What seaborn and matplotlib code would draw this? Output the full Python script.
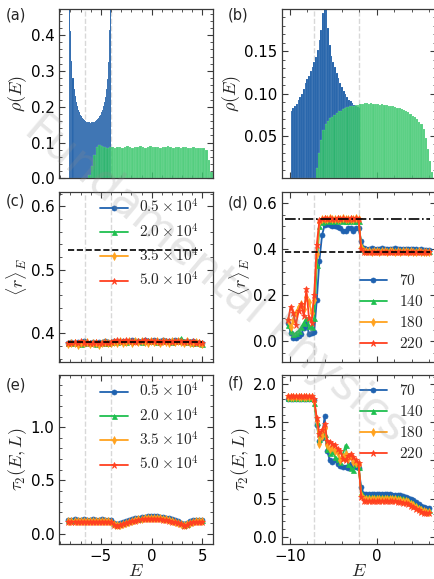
import numpy as np
import pandas as pd
import matplotlib
matplotlib.use("Agg")
import matplotlib.pyplot as plt
from matplotlib.ticker import AutoMinorLocator, MultipleLocator, FixedLocator
import seaborn as sns

sns.set_theme(style="ticks")
plt.rcParams.update({
    "font.family": ["DejaVu Sans"],
    "mathtext.fontset": "cm",
    "xtick.direction": "in", "ytick.direction": "in",
    "xtick.top": True, "ytick.right": True,
    "xtick.major.size": 4, "ytick.major.size": 4,
    "xtick.minor.size": 2, "ytick.minor.size": 2,
    "xtick.major.width": 0.8, "ytick.major.width": 0.8,
    "xtick.minor.width": 0.6, "ytick.minor.width": 0.6,
    "xtick.labelsize": 10.8, "ytick.labelsize": 10.8,
    "axes.labelsize": 13,
    "axes.edgecolor": "#3a3a3a", "axes.linewidth": 0.9,
    "xtick.color": "#3a3a3a", "ytick.color": "#3a3a3a",
    "xtick.labelcolor": "black", "ytick.labelcolor": "black",
})

# ---------------- densities of states ----------------
# (a) bin centres and heights
dos_a_blue_E = np.linspace(-8.05, -4.05, 41)
dos_a_blue = [0.700, 0.412, 0.327, 0.279, 0.250, 0.229, 0.213, 0.201, 0.192, 0.184,
              0.178, 0.173, 0.169, 0.165, 0.162, 0.160, 0.158, 0.157, 0.156, 0.156,
              0.155, 0.156, 0.156, 0.157, 0.158, 0.160, 0.163, 0.165, 0.168, 0.173,
              0.178, 0.184, 0.191, 0.201, 0.212, 0.228, 0.249, 0.278, 0.325, 0.415,
              0.710]
dos_a_green_E = np.linspace(-6.125, 5.875, 49)
dos_a_green = [0.010, 0.034, 0.066, 0.088, 0.094, 0.090, 0.087, 0.086, 0.088, 0.087,
               0.085, 0.087, 0.088, 0.086, 0.087, 0.089, 0.087, 0.086, 0.088, 0.087,
               0.089, 0.088, 0.086, 0.087, 0.089, 0.088, 0.087, 0.088, 0.086, 0.087,
               0.088, 0.089, 0.087, 0.086, 0.088, 0.087, 0.086, 0.088, 0.087, 0.085,
               0.086, 0.087, 0.085, 0.086, 0.085, 0.086, 0.078, 0.050, 0.018]

# (b) bin centres and heights
dos_b_blue_E = np.linspace(-9.8, -2.0, 40)
dos_b_blue = [0.080, 0.083, 0.085, 0.088, 0.092, 0.096, 0.100, 0.105, 0.112, 0.117,
              0.121, 0.127, 0.131, 0.137, 0.143, 0.152, 0.163, 0.175, 0.195, 0.215,
              0.210, 0.178, 0.158, 0.145, 0.137, 0.131, 0.124, 0.118, 0.112, 0.108,
              0.103, 0.099, 0.096, 0.093, 0.091, 0.089, 0.087, 0.085, 0.084, 0.083]
dos_b_green_E = np.linspace(-6.875, 6.375, 54)
dos_b_green = [0.012, 0.030, 0.045, 0.057, 0.064, 0.068, 0.071, 0.073, 0.075, 0.077,
               0.079, 0.080, 0.082, 0.083, 0.084, 0.085, 0.086, 0.086, 0.087, 0.087,
               0.088, 0.088, 0.089, 0.089, 0.088, 0.089, 0.088, 0.088, 0.088, 0.087,
               0.088, 0.087, 0.087, 0.086, 0.086, 0.085, 0.084, 0.083, 0.083, 0.082,
               0.081, 0.080, 0.078, 0.076, 0.074, 0.072, 0.070, 0.067, 0.064, 0.058,
               0.048, 0.035, 0.020, 0.008]

# ---------------- left column: sizes 0.5e4 ... 5.0e4 ----------------
E_left = np.linspace(-8.2, 5.0, 45)
labels_left = [r"$0.5\times10^4$", r"$2.0\times10^4$", r"$3.5\times10^4$", r"$5.0\times10^4$"]

r_left_05 = [0.385, 0.386, 0.384, 0.386, 0.385, 0.387, 0.385, 0.384, 0.386, 0.385,
             0.386, 0.385, 0.387, 0.386, 0.385, 0.387, 0.388, 0.386, 0.387, 0.388,
             0.387, 0.389, 0.388, 0.387, 0.388, 0.389, 0.387, 0.388, 0.389, 0.388,
             0.387, 0.389, 0.388, 0.387, 0.388, 0.389, 0.387, 0.388, 0.386, 0.387,
             0.386, 0.387, 0.386, 0.385, 0.384]
r_left_20 = [0.384, 0.385, 0.386, 0.384, 0.383, 0.385, 0.386, 0.384, 0.385, 0.383,
             0.384, 0.386, 0.385, 0.384, 0.386, 0.387, 0.386, 0.388, 0.387, 0.386,
             0.388, 0.387, 0.389, 0.387, 0.386, 0.388, 0.389, 0.387, 0.388, 0.386,
             0.388, 0.387, 0.389, 0.388, 0.386, 0.387, 0.388, 0.392, 0.387, 0.386,
             0.387, 0.385, 0.386, 0.384, 0.383]
r_left_35 = [0.383, 0.385, 0.384, 0.382, 0.385, 0.384, 0.386, 0.383, 0.384, 0.385,
             0.382, 0.384, 0.386, 0.384, 0.385, 0.386, 0.384, 0.387, 0.385, 0.386,
             0.388, 0.385, 0.387, 0.386, 0.388, 0.386, 0.385, 0.387, 0.386, 0.388,
             0.384, 0.387, 0.386, 0.385, 0.387, 0.386, 0.388, 0.386, 0.385, 0.387,
             0.385, 0.384, 0.386, 0.384, 0.383]
r_left_50 = [0.385, 0.384, 0.386, 0.385, 0.387, 0.385, 0.386, 0.384, 0.385, 0.386,
             0.384, 0.385, 0.386, 0.385, 0.386, 0.388, 0.389, 0.387, 0.388, 0.389,
             0.387, 0.388, 0.386, 0.388, 0.387, 0.389, 0.388, 0.387, 0.388, 0.387,
             0.386, 0.388, 0.387, 0.388, 0.386, 0.387, 0.388, 0.387, 0.386, 0.388,
             0.386, 0.387, 0.385, 0.386, 0.385]

t_left_05 = [0.132, 0.132, 0.133, 0.132, 0.132, 0.133, 0.132, 0.132, 0.133, 0.132,
             0.132, 0.133, 0.132, 0.132, 0.128, 0.104, 0.089, 0.097, 0.106, 0.116,
             0.126, 0.135, 0.143, 0.150, 0.156, 0.161, 0.164, 0.166, 0.166, 0.164,
             0.161, 0.156, 0.150, 0.143, 0.135, 0.126, 0.116, 0.104, 0.089, 0.100,
             0.118, 0.128, 0.131, 0.132, 0.132]
t_left_20 = [0.125, 0.125, 0.126, 0.125, 0.125, 0.126, 0.125, 0.125, 0.126, 0.125,
             0.125, 0.126, 0.125, 0.125, 0.121, 0.097, 0.083, 0.090, 0.099, 0.109,
             0.118, 0.127, 0.135, 0.142, 0.147, 0.152, 0.155, 0.157, 0.157, 0.155,
             0.152, 0.147, 0.141, 0.134, 0.126, 0.117, 0.108, 0.097, 0.083, 0.093,
             0.111, 0.121, 0.124, 0.125, 0.125]
t_left_35 = [0.118, 0.118, 0.119, 0.118, 0.118, 0.119, 0.118, 0.118, 0.119, 0.118,
             0.118, 0.119, 0.118, 0.118, 0.114, 0.091, 0.077, 0.085, 0.094, 0.103,
             0.112, 0.121, 0.128, 0.134, 0.140, 0.144, 0.147, 0.149, 0.149, 0.147,
             0.144, 0.139, 0.134, 0.127, 0.119, 0.111, 0.102, 0.091, 0.077, 0.088,
             0.104, 0.114, 0.117, 0.118, 0.118]
t_left_50 = [0.112, 0.112, 0.113, 0.112, 0.112, 0.113, 0.112, 0.112, 0.113, 0.112,
             0.112, 0.113, 0.112, 0.112, 0.108, 0.085, 0.072, 0.080, 0.089, 0.098,
             0.107, 0.115, 0.122, 0.128, 0.133, 0.137, 0.140, 0.141, 0.141, 0.139,
             0.136, 0.132, 0.127, 0.121, 0.114, 0.106, 0.097, 0.086, 0.072, 0.082,
             0.098, 0.108, 0.111, 0.112, 0.112]

# ---------------- right column: sizes 70 ... 220 ----------------
E_right = np.linspace(-10.2, 6.0, 55)
labels_right = [r"$70$", r"$140$", r"$180$", r"$220$"]

r_right_70 = [0.080, 0.035, 0.015, 0.015, 0.020, 0.030, 0.055, 0.080, 0.030, 0.035,
              0.040, 0.180, 0.350, 0.460, 0.505, 0.510, 0.505, 0.500, 0.500, 0.495,
              0.490, 0.480, 0.480, 0.490, 0.490, 0.480, 0.490, 0.490, 0.435, 0.405,
              0.402, 0.401, 0.403, 0.400, 0.402, 0.401, 0.403, 0.402, 0.400, 0.401,
              0.402, 0.403, 0.401, 0.400, 0.402, 0.401, 0.400, 0.399, 0.401, 0.400,
              0.398, 0.399, 0.397, 0.398, 0.397]
r_right_140 = [0.070, 0.045, 0.030, 0.035, 0.045, 0.060, 0.080, 0.100, 0.065, 0.060,
               0.100, 0.330, 0.500, 0.520, 0.523, 0.525, 0.522, 0.524, 0.526, 0.523,
               0.525, 0.522, 0.524, 0.523, 0.525, 0.522, 0.524, 0.523, 0.420, 0.395,
               0.395, 0.396, 0.394, 0.395, 0.397, 0.395, 0.394, 0.396, 0.395, 0.394,
               0.396, 0.395, 0.394, 0.395, 0.396, 0.394, 0.395, 0.393, 0.394, 0.395,
               0.393, 0.394, 0.392, 0.393, 0.392]
r_right_180 = [0.090, 0.060, 0.090, 0.120, 0.150, 0.160, 0.140, 0.190, 0.170, 0.120,
               0.180, 0.380, 0.520, 0.530, 0.532, 0.530, 0.534, 0.531, 0.533, 0.530,
               0.532, 0.534, 0.531, 0.533, 0.530, 0.532, 0.534, 0.531, 0.410, 0.390,
               0.390, 0.391, 0.389, 0.390, 0.392, 0.389, 0.390, 0.391, 0.389, 0.390,
               0.391, 0.389, 0.390, 0.388, 0.390, 0.391, 0.389, 0.390, 0.388, 0.389,
               0.390, 0.388, 0.389, 0.388, 0.387]
r_right_220 = [0.090, 0.150, 0.120, 0.070, 0.130, 0.160, 0.110, 0.225, 0.100, 0.080,
               0.200, 0.420, 0.525, 0.530, 0.534, 0.532, 0.535, 0.533, 0.531, 0.534,
               0.532, 0.535, 0.533, 0.531, 0.534, 0.532, 0.535, 0.533, 0.400, 0.388,
               0.388, 0.387, 0.389, 0.388, 0.386, 0.388, 0.387, 0.389, 0.388, 0.386,
               0.387, 0.388, 0.389, 0.387, 0.388, 0.386, 0.388, 0.387, 0.389, 0.388,
               0.386, 0.387, 0.388, 0.386, 0.387]

t_right_70 = [1.80, 1.80, 1.80, 1.80, 1.80, 1.80, 1.80, 1.80, 1.80, 1.80,
              1.79, 1.47, 1.25, 1.30, 1.58, 1.12, 1.00, 0.98, 1.00, 0.95,
              0.93, 0.92, 0.91, 0.90, 0.95, 0.93, 0.92, 0.90, 0.65, 0.56,
              0.558, 0.558, 0.558, 0.557, 0.557, 0.557, 0.556, 0.556, 0.555, 0.554,
              0.553, 0.551, 0.548, 0.544,
              0.535, 0.525, 0.512, 0.495, 0.475, 0.452, 0.428, 0.405, 0.385, 0.372, 0.380]
t_right_140 = [1.82, 1.82, 1.82, 1.82, 1.82, 1.82, 1.82, 1.82, 1.82, 1.82,
               1.75, 1.50, 1.28, 1.40, 1.35, 1.15, 1.10, 1.12, 1.05, 1.02,
               0.98, 1.08, 1.20, 0.95, 0.90, 0.88, 0.95, 0.92, 0.58, 0.52,
               0.525, 0.525, 0.525, 0.524, 0.524, 0.524, 0.523, 0.523, 0.522, 0.521,
               0.520, 0.518, 0.515, 0.511,
               0.502, 0.492, 0.478, 0.460, 0.440, 0.418, 0.395, 0.373, 0.354, 0.342, 0.345]
t_right_180 = [1.83, 1.83, 1.83, 1.83, 1.83, 1.83, 1.83, 1.83, 1.83, 1.83,
               1.78, 1.52, 1.22, 1.32, 1.42, 1.20, 1.15, 1.18, 1.12, 1.10,
               1.00, 1.05, 1.08, 1.02, 1.06, 0.98, 0.96, 0.95, 0.55, 0.495,
               0.495, 0.495, 0.495, 0.494, 0.494, 0.494, 0.493, 0.493, 0.492, 0.491,
               0.490, 0.488, 0.485, 0.481,
               0.473, 0.463, 0.449, 0.431, 0.411, 0.390, 0.369, 0.349, 0.332, 0.324, 0.326]
t_right_220 = [1.84, 1.84, 1.84, 1.84, 1.84, 1.84, 1.84, 1.84, 1.84, 1.84,
               1.80, 1.55, 1.35, 1.40, 1.48, 1.26, 1.24, 1.22, 1.20, 1.15,
               1.12, 1.02, 1.00, 1.06, 1.08, 1.05, 1.00, 0.97, 0.52, 0.47,
               0.470, 0.470, 0.470, 0.469, 0.469, 0.469, 0.468, 0.468, 0.467, 0.466,
               0.465, 0.463, 0.460, 0.456,
               0.448, 0.438, 0.425, 0.408, 0.389, 0.369, 0.349, 0.330, 0.315, 0.308, 0.310]

# reference levels and band edges
r_goe = 0.5307
r_poisson = 0.386
edges_left = [-6.6, -4.0]
edges_right = [-7.2, -2.0]

COLORS = ["#1f62b0", "#1fbf4f", "#ffa21f", "#ff4020"]
MARKERS = ["o", "^", "d", "*"]
HIST_BLUE = "#1f5fa8"
HIST_GREEN = "#2ec463"

W, H = 434, 579
fig = plt.figure(figsize=(W / 100, H / 100), dpi=100)


def px_axes(left, top, right, bottom):
    return fig.add_axes([left / W, 1 - bottom / H, (right - left) / W, (bottom - top) / H])


ax_a = px_axes(59.3, 9.0, 213.3, 178.3)
ax_c = px_axes(59.3, 191.7, 213.3, 361.7)
ax_e = px_axes(59.3, 375.0, 213.3, 544.3)
ax_b = px_axes(282.0, 9.0, 436.0, 178.3)
ax_d = px_axes(282.0, 191.7, 436.0, 361.7)
ax_f = px_axes(282.0, 375.0, 436.0, 544.3)


def draw_hist(ax, centers, heights, width, color, alpha):
    centers = np.asarray(centers, dtype=float)
    df = pd.DataFrame({"E": centers, "rho": np.asarray(heights, dtype=float)})
    lo = float(centers[0] - width / 2)
    hi = float(centers[-1] + width / 2)
    sns.histplot(data=df, x="E", weights="rho", binwidth=width, binrange=(lo, hi),
                 color=color, alpha=alpha, edgecolor=(1, 1, 1, 0.25), linewidth=0.3, ax=ax)


def draw_series(ax, E, series, labels):
    for vals, lab, col, mk in zip(series, labels, COLORS, MARKERS):
        ms = 5 if mk == "*" else 3.6
        sns.lineplot(x=E, y=vals, ax=ax, color=col, marker=mk, markersize=ms,
                     markeredgecolor=col, markeredgewidth=0.5, linewidth=1.3,
                     label=lab, errorbar=None)


def legend(ax, x_px, y_px):
    ax.legend(loc="upper left", bbox_to_anchor=(x_px / W, 1 - y_px / H),
              bbox_transform=fig.transFigure, frameon=False, fontsize=11,
              handlelength=1.8, handletextpad=0.75, labelspacing=0.4,
              borderpad=0, borderaxespad=0)


def vlines(ax, xs):
    for x in xs:
        ax.axvline(x, color="#d8d8d8", ls="--", lw=1.0, zorder=0)


# (a)
draw_hist(ax_a, dos_a_blue_E, dos_a_blue, 0.1, HIST_BLUE, 1.0)
draw_hist(ax_a, dos_a_green_E, dos_a_green, 0.25, HIST_GREEN, 0.82)
vlines(ax_a, edges_left)
ax_a.set_ylim(0, 0.473)
ax_a.yaxis.set_major_locator(MultipleLocator(0.1))
ax_a.set_ylabel(r"$\rho(E)$")

# (b)
draw_hist(ax_b, dos_b_blue_E, dos_b_blue, 0.2, HIST_BLUE, 1.0)
draw_hist(ax_b, dos_b_green_E, dos_b_green, 0.25, HIST_GREEN, 0.82)
vlines(ax_b, edges_right)
ax_b.set_ylim(0, 0.2)
ax_b.yaxis.set_major_locator(FixedLocator([0.05, 0.10, 0.15]))
ax_b.set_ylabel(r"$\rho(E)$")

# (c)
vlines(ax_c, edges_left)
draw_series(ax_c, E_left, [r_left_05, r_left_20, r_left_35, r_left_50], labels_left)
ax_c.hlines([r_goe, r_poisson], E_left[0], E_left[-1], colors="black",
            linestyles="--", lw=1.2, zorder=6)
ax_c.set_ylim(0.355, 0.623)
ax_c.yaxis.set_major_locator(MultipleLocator(0.1))
ax_c.set_ylabel(r"$\langle r\rangle_E$")
legend(ax_c, 100, 198)

# (d)
vlines(ax_d, edges_right)
draw_series(ax_d, E_right, [r_right_70, r_right_140, r_right_180, r_right_220], labels_right)
ax_d.hlines(r_goe, -10.6, 6.1, colors="black", linestyles="-.", lw=1.2, zorder=6)
ax_d.hlines(r_poisson, -10.6, 6.1, colors="black", linestyles="--", lw=1.2, zorder=6)
ax_d.set_ylim(-0.09, 0.65)
ax_d.yaxis.set_major_locator(MultipleLocator(0.2))
ax_d.set_ylabel(r"$\langle r\rangle_E$")
legend(ax_d, 359.7, 273)

# (e)
vlines(ax_e, edges_left)
draw_series(ax_e, E_left, [t_left_05, t_left_20, t_left_35, t_left_50], labels_left)
ax_e.set_ylim(-0.1, 1.49)
ax_e.yaxis.set_major_locator(FixedLocator([0.0, 0.5, 1.0]))
ax_e.set_ylabel(r"$\tau_2(E,L)$")
ax_e.set_xlabel(r"$E$")
legend(ax_e, 100, 382)

# (f)
vlines(ax_f, edges_right)
draw_series(ax_f, E_right, [t_right_70, t_right_140, t_right_180, t_right_220], labels_right)
ax_f.set_ylim(-0.1, 2.12)
ax_f.yaxis.set_major_locator(MultipleLocator(0.5))
ax_f.set_ylabel(r"$\tau_2(E,L)$")
ax_f.set_xlabel(r"$E$")
legend(ax_f, 359.7, 383)

for ax in (ax_a, ax_c, ax_e):
    ax.set_xlim(-9.1, 6.07)
    ax.xaxis.set_major_locator(MultipleLocator(5))
for ax in (ax_b, ax_d, ax_f):
    ax.set_xlim(-10.9, 6.8)
    ax.xaxis.set_major_locator(MultipleLocator(10))

for ax in (ax_a, ax_b, ax_c, ax_d, ax_e, ax_f):
    ax.xaxis.set_minor_locator(AutoMinorLocator())
    ax.yaxis.set_minor_locator(AutoMinorLocator())
    ax.tick_params(which="both", direction="in", top=True, right=True)
    ax.yaxis.labelpad = 1
    for s in ax.spines.values():
        s.set_visible(True)
for ax in (ax_a, ax_b, ax_c, ax_d):
    ax.tick_params(labelbottom=False)
    ax.set_xlabel("")
ax_e.xaxis.labelpad = -1.5
ax_f.xaxis.labelpad = -1.5

for lab, (x, y) in zip(["(a)", "(b)", "(c)", "(d)", "(e)", "(f)"],
                       [(6, 15), (228, 15), (6, 201), (228, 203), (6, 385), (228, 383)]):
    fig.text(x / W, 1 - y / H, lab, fontsize=10.5, ha="left", va="center")

fig.text(0.497, 0.52, "Fundamental Physics", fontsize=33, rotation=-40,
         color="#8c8c8c", alpha=0.22, ha="center", va="center")

fig.savefig("out.png", dpi=100)
